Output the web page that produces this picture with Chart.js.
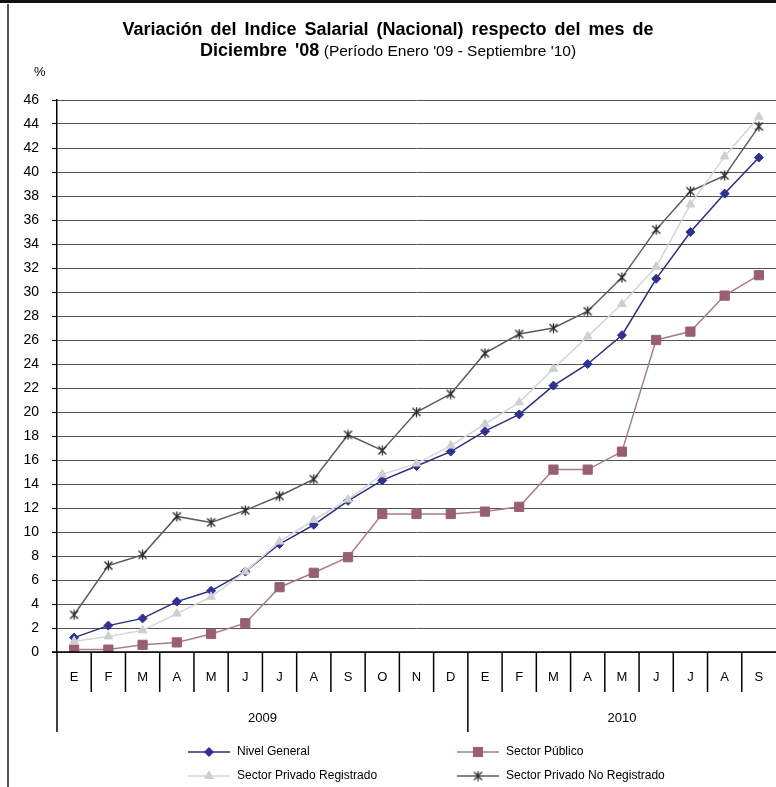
<!DOCTYPE html>
<html>
<head>
<meta charset="utf-8">
<script src="https://cdn.jsdelivr.net/npm/chart.js@4.4.1/dist/chart.umd.min.js"></script>
<style>
  html, body { margin: 0; padding: 0; background: #fff; }
  #wrap { position: relative; width: 776px; height: 787px; overflow: hidden; }
  #frameTop { position: absolute; left: 0; top: 0; width: 776px; height: 3px; background: #111; }
  #frameLeft { position: absolute; left: 7px; top: 4px; width: 2px; height: 783px; background: #555; }
  #title { position: absolute; left: 0; top: 19px; width: 776px; text-align: center;
    font-family: "Liberation Sans Narrow", "Arial Narrow", "Liberation Sans", Arial, sans-serif;
    color: #000; line-height: 21px; }
  #title .b { font-weight: bold; font-size: 18px; word-spacing: 3px; }
  #title .n { font-size: 15.5px; }
  #pct { position: absolute; left: 34px; top: 64px; font-family: "Liberation Sans Narrow", "Liberation Sans", Arial, sans-serif; font-size: 13px; }
  canvas { position: absolute; left: 0; top: 0; }
</style>
</head>
<body>
<div id="wrap">
  <canvas id="chart" width="776" height="787"></canvas>
  <div id="frameTop"></div>
  <div id="frameLeft"></div>
  <div id="title">
    <span class="b">Variación del Indice Salarial (Nacional) respecto del mes de</span><br>
    <span class="b">Diciembre '08</span> <span class="n">(Período Enero '09 - Septiembre '10)</span>
  </div>
  <div id="pct">%</div>
</div>
<script>
const months = ["E", "F", "M", "A", "M", "J", "J", "A", "S", "O", "N", "D",
                "E", "F", "M", "A", "M", "J", "J", "A", "S"];
const years = ["2009", "2010"];
const yearStart = [0, 12];

const nivelGeneral = [1.2, 2.2, 2.8, 4.2, 5.1, 6.7, 9.0, 10.6, 12.6, 14.3, 15.5, 16.7,
                      18.4, 19.8, 22.2, 24.0, 26.4, 31.1, 35.0, 38.2, 41.2];
const sectorPublico = [0.2, 0.2, 0.6, 0.8, 1.5, 2.4, 5.4, 6.6, 7.9, 11.5, 11.5, 11.5,
                       11.7, 12.1, 15.2, 15.2, 16.7, 26.0, 26.7, 29.7, 31.4];
const privadoRegistrado = [0.9, 1.3, 1.8, 3.2, 4.6, 6.7, 9.2, 11.0, 12.7, 14.8, 15.7, 17.2,
                           19.0, 20.8, 23.6, 26.3, 29.0, 32.1, 37.3, 41.3, 44.6];
const privadoNoRegistrado = [3.1, 7.2, 8.1, 11.3, 10.8, 11.8, 13.0, 14.4, 18.1, 16.8, 20.0, 21.5,
                             24.9, 26.5, 27.0, 28.4, 31.2, 35.2, 38.4, 39.7, 43.8];

const FONT = '"Liberation Sans Narrow", "Arial Narrow", "Liberation Sans", Arial, sans-serif';

// Excel-style star marker (X with vertical bar)
function makeStar(color) {
  const c = document.createElement("canvas");
  c.width = 11; c.height = 11;
  const g = c.getContext("2d");
  g.strokeStyle = color;
  g.lineWidth = 1.3;
  g.beginPath();
  g.moveTo(1.5, 1.5); g.lineTo(9.5, 9.5);
  g.moveTo(9.5, 1.5); g.lineTo(1.5, 9.5);
  g.moveTo(5.5, 0.5); g.lineTo(5.5, 10.5);
  g.stroke();
  return c;
}
const star = makeStar("#2a2a2a");

const series = [
  { label: "Nivel General", data: nivelGeneral, line: "#2B2E7A", fill: "#2E3192", style: "rectRot", r: 4.5 },
  { label: "Sector Público", data: sectorPublico, line: "#A67E89", fill: "#9A5F6F", style: "rect", r: 6.5 },
  { label: "Sector Privado Registrado", data: privadoRegistrado, line: "#D2D6D6", fill: "#CBD0D0", style: "triangle", r: 5 },
  { label: "Sector Privado No Registrado", data: privadoNoRegistrado, line: "#5C5C5C", fill: "#2a2a2a", style: star, r: 5 },
];

const datasets = series.map(s => ({
  label: s.label,
  data: s.data,
  borderColor: s.line,
  borderWidth: 1.5,
  backgroundColor: s.fill,
  pointStyle: s.style,
  pointRadius: s.r,
  pointBorderColor: s.fill,
  pointBorderWidth: 1,
  pointBackgroundColor: s.fill,
  tension: 0,
}));
// draw the light series below the others, like the original
const order = [2, 3, 1, 0];
const orderedSets = order.map(i => datasets[i]);

const decor = {
  id: "decor",
  afterDraw(chart) {
    const { ctx, chartArea } = chart;
    const x = chart.scales.x;
    const bottom = chartArea.bottom;
    const w = (chartArea.right - chartArea.left) / months.length;
    ctx.save();

    // baseline
    ctx.strokeStyle = "#000";
    ctx.lineWidth = 1.5;
    ctx.beginPath();
    ctx.moveTo(chartArea.left - 5, bottom);
    ctx.lineTo(chartArea.right, bottom);
    ctx.stroke();

    // category separators
    for (let i = 0; i < months.length; i++) {
      const bx = x.getPixelForValue(i) - w / 2;
      const long = yearStart.includes(i);
      ctx.beginPath();
      ctx.moveTo(bx, bottom);
      ctx.lineTo(bx, bottom + (long ? 80 : 40));
      ctx.stroke();
    }

    // month labels
    ctx.fillStyle = "#000";
    ctx.font = "13px " + FONT;
    ctx.textAlign = "center";
    ctx.textBaseline = "middle";
    months.forEach((m, i) => ctx.fillText(m, x.getPixelForValue(i), bottom + 25));

    // year labels
    years.forEach((y, k) => {
      const a = yearStart[k];
      const b = k + 1 < yearStart.length ? yearStart[k + 1] - 1 : months.length - 1;
      const cx = (x.getPixelForValue(a) + x.getPixelForValue(b)) / 2;
      ctx.fillText(y, cx, bottom + 66);
    });

    // legend
    const slots = [[188, 752], [457, 752], [188, 776], [457, 776]];
    ctx.font = "12px " + FONT;
    ctx.textAlign = "left";
    series.forEach((s, i) => {
      const [lx, ly] = slots[i];
      ctx.strokeStyle = s.line;
      ctx.lineWidth = 1.5;
      ctx.beginPath();
      ctx.moveTo(lx, ly);
      ctx.lineTo(lx + 42, ly);
      ctx.stroke();
      ctx.fillStyle = s.fill;
      ctx.strokeStyle = s.fill;
      ctx.lineWidth = 1;
      Chart.helpers.drawPoint(ctx, { pointStyle: s.style, radius: s.r, rotation: 0, borderWidth: 1 }, lx + 21, ly);
      ctx.fillStyle = "#000";
      ctx.fillText(s.label, lx + 49, ly);
    });
    ctx.restore();
  },
};

new Chart(document.getElementById("chart").getContext("2d"), {
  type: "line",
  data: { labels: months, datasets: orderedSets },
  options: {
    responsive: false,
    animation: false,
    layout: { autoPadding: false, padding: { top: 100, bottom: 135, left: 0, right: 0 } },
    plugins: { legend: { display: false }, title: { display: false }, tooltip: { enabled: false } },
    scales: {
      x: { type: "category", display: false, offset: true },
      y: {
        min: 0,
        max: 46,
        afterFit: s => { s.width = 57; },
        ticks: { stepSize: 2, color: "#000", padding: 13, font: { size: 14, family: FONT } },
        border: { display: true, color: "#000", width: 1.5 },
        grid: {
          color: "#555",
          lineWidth: 1,
          borderDash: [3, 3],
          tickLength: 5,
          tickColor: "#000",
          tickBorderDash: [],
        },
      },
    },
  },
  plugins: [decor],
});
</script>
</body>
</html>
